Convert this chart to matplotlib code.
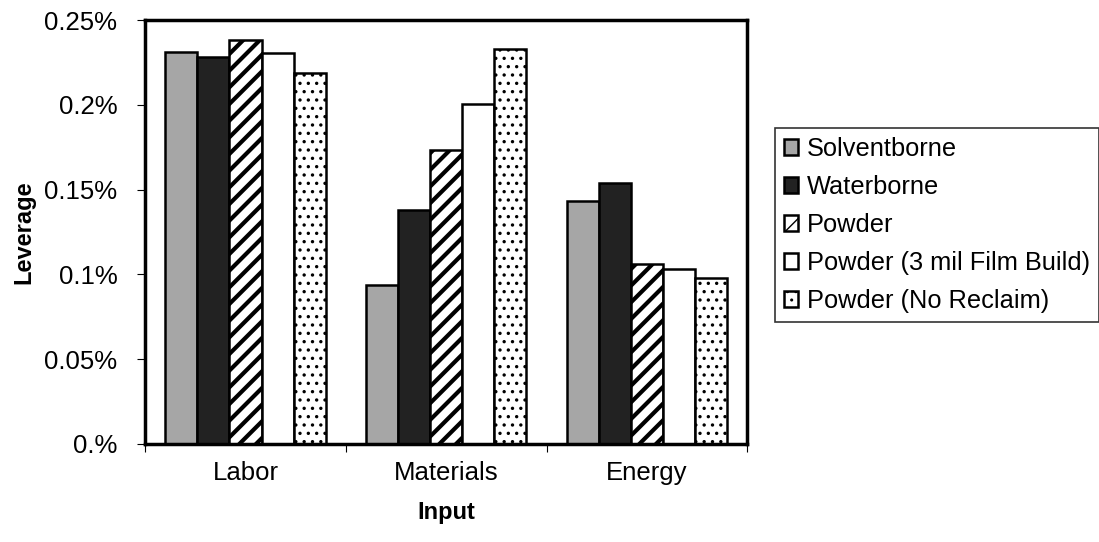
import numpy as np
import matplotlib
matplotlib.use('Agg')
import matplotlib.pyplot as plt

plt.rcParams['font.family'] = ['Liberation Sans', 'DejaVu Sans']

# Leverage values (in percent)
categories = ['Labor', 'Materials', 'Energy']
series = ['Solventborne', 'Waterborne', 'Powder',
          'Powder (3 mil Film Build)', 'Powder (No Reclaim)']
solventborne = [0.231, 0.0937, 0.143]
waterborne = [0.228, 0.138, 0.154]
powder = [0.2385, 0.1733, 0.106]
powder_3mil = [0.2304, 0.2003, 0.103]
powder_noreclaim = [0.2187, 0.2329, 0.098]
yticks = [0, 0.05, 0.1, 0.15, 0.2, 0.25]
ytick_labels = ['0.%', '0.05%', '0.1%', '0.15%', '0.2%', '0.25%']

values = [solventborne, waterborne, powder, powder_3mil, powder_noreclaim]
colors = ['#a6a6a6', '#222222', 'white', 'white', 'white']
hatches = [None, None, '//', None, '..']
hatch_lw = [1, 1, 3.0, 1, 1.2]

fig = plt.figure(figsize=(10.99, 5.42), dpi=100)
ax = fig.add_axes([0.132, 0.181, 0.548, 0.782])

x = np.arange(len(categories))
w = 0.16
for i, (vals, name) in enumerate(zip(values, series)):
    with plt.rc_context({'hatch.linewidth': hatch_lw[i]}):
        ax.bar(x + (i - 2) * w, vals, w, color=colors[i], edgecolor='black',
               linewidth=1.8, hatch=hatches[i], label=name)

ax.set_xlim(-0.5, 2.5)
ax.set_ylim(0, 0.25)
ax.set_yticks(yticks)
ax.set_yticklabels(ytick_labels)
ax.set_xticks(x)
ax.set_xticklabels(categories)
ax.set_xticks([-0.5, 0.5, 1.5, 2.5], minor=True)
ax.tick_params(axis='x', which='major', length=0, pad=12, labelsize=18.5)
ax.tick_params(axis='x', which='minor', length=6, width=0.8)
ax.tick_params(axis='y', length=6, width=0.8, labelsize=18.5, pad=14)
for s in ax.spines.values():
    s.set_linewidth(2.5)

ax.set_ylabel('Leverage', fontsize=17, fontweight='bold', labelpad=6)
ax.set_xlabel('Input', fontsize=17, fontweight='bold', labelpad=12)

leg = ax.legend(loc='upper left', bbox_to_anchor=(1.046, 0.745), fontsize=18.3,
                frameon=True, fancybox=False, edgecolor='black',
                handlelength=0.55, handleheight=0.55, handletextpad=0.35,
                labelspacing=0.55, borderpad=0.35, borderaxespad=0)
leg.get_frame().set_linewidth(1.2)

fig.savefig('out.png', dpi=100)
